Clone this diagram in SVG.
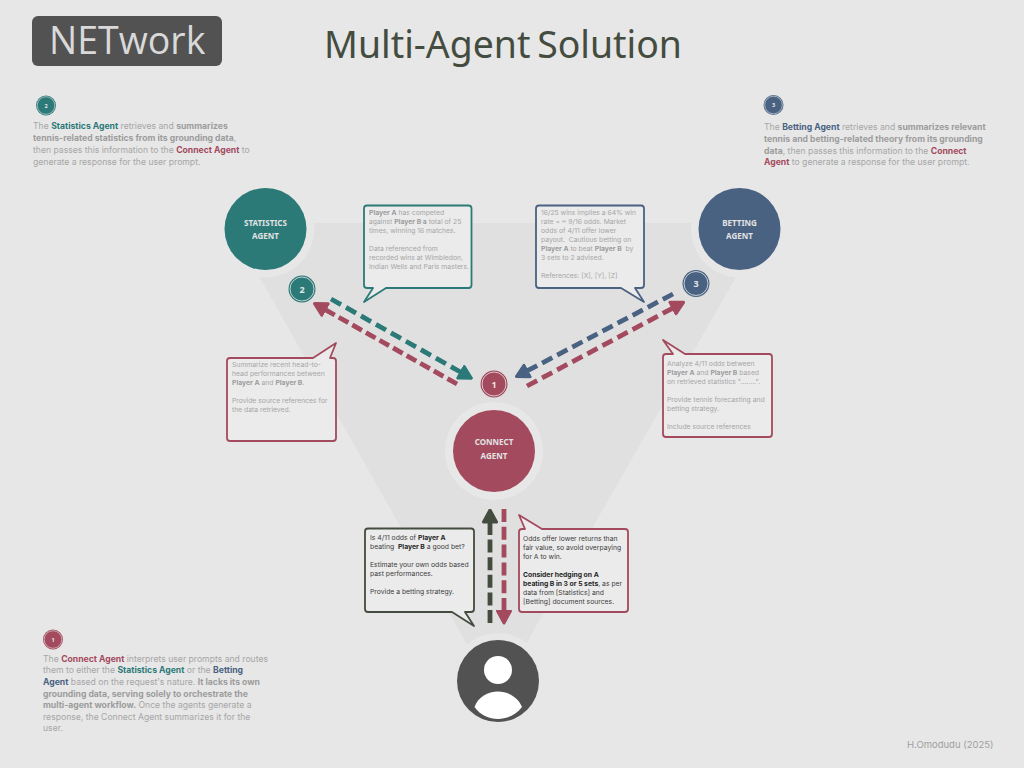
<svg xmlns="http://www.w3.org/2000/svg" width="1024" height="768" viewBox="0 0 1024 768">
<style>
text{font-family:"Inter","Liberation Sans",sans-serif;opacity:.999}
.t{font-size:6.8px;fill:#a6a6a6}
.td{font-size:6.8px;fill:#404040}
.l{font-size:8.65px;fill:#a6a6a6}
.b{font-weight:700}
.bd{font-weight:700;fill:#9c9c9c}
.bk{font-weight:700;fill:#1f1f1f}
.teal{font-weight:700;fill:#2b7a78}
.red{font-weight:700;fill:#a34a5e}
.blue{font-weight:700;fill:#4a6282}
.n{font-family:"Noto Sans","Open Sans",sans-serif;font-size:8px;font-weight:700;fill:#e2e2e2;text-anchor:middle}
.bn{font-family:"Noto Sans","Open Sans",sans-serif;font-weight:700;fill:#e7e7e7;text-anchor:middle}
.halo{fill:#e7e7e7}
.co{fill:#ebebeb;stroke-width:1.8;stroke-linejoin:round}
.cn{fill:none;stroke-width:4.8}
</style>
<defs>
<marker id="mTeal" viewBox="0 0 15 18" refX="1.5" refY="9" markerWidth="15" markerHeight="18" orient="auto" markerUnits="userSpaceOnUse"><path d="M1.5 2.5L13.5 9L1.5 15.5Z" fill="#2b7a78" stroke="#2b7a78" stroke-width="3" stroke-linejoin="round"/></marker>
<marker id="mRed" viewBox="0 0 15 18" refX="1.5" refY="9" markerWidth="15" markerHeight="18" orient="auto" markerUnits="userSpaceOnUse"><path d="M1.5 2.5L13.5 9L1.5 15.5Z" fill="#a34a5e" stroke="#a34a5e" stroke-width="3" stroke-linejoin="round"/></marker>
<marker id="mBlue" viewBox="0 0 15 18" refX="1.5" refY="9" markerWidth="15" markerHeight="18" orient="auto" markerUnits="userSpaceOnUse"><path d="M1.5 2.5L13.5 9L1.5 15.5Z" fill="#4a6282" stroke="#4a6282" stroke-width="3" stroke-linejoin="round"/></marker>
<marker id="mDark" viewBox="0 0 15 18" refX="1.5" refY="9" markerWidth="15" markerHeight="18" orient="auto" markerUnits="userSpaceOnUse"><path d="M1.5 2.5L13.5 9L1.5 15.5Z" fill="#434c3e" stroke="#434c3e" stroke-width="3" stroke-linejoin="round"/></marker>
</defs>
<rect width="1024" height="768" fill="#e7e7e7"/>
<path id="backdrop" d="M229 223H767L496 696Z" fill="#e0e0e0"/>
<circle class="halo" cx="265.5" cy="229" r="48.5"/>
<circle class="halo" cx="739.5" cy="229" r="48.5"/>
<circle class="halo" cx="494" cy="451" r="49"/>
<circle class="halo" cx="498" cy="681" r="48"/>

<g id="logo"><rect x="32" y="16" width="190" height="50" rx="6" fill="#525252"/><text x="49" y="54" font-size="37.5" fill="#d9d9d9" style="font-family:'Open Sans','Noto Sans',sans-serif">NETwork</text></g>
<text id="title" x="324" y="58" font-size="37.4" word-spacing="-3" fill="#434c3e" style="font-family:'Noto Sans','Open Sans',sans-serif">Multi-Agent Solution</text>

<g id="connectors">
<path class="cn" stroke="#2b7a78" stroke-dasharray="11.5 5.7" d="M331 299L461 372.3" marker-end="url(#mTeal)"/>
<path class="cn" stroke="#a34a5e" stroke-dasharray="11 4.6" d="M457 384L325 309.5" marker-end="url(#mRed)"/>
<path class="cn" stroke="#4a6282" stroke-dasharray="11.5 5.56" d="M673 294L527 371" marker-end="url(#mBlue)"/>
<path class="cn" stroke="#a34a5e" stroke-dasharray="11.5 5.6" d="M527 386L673 308" marker-end="url(#mRed)"/>
<path class="cn" stroke="#434c3e" stroke-dasharray="13 4.6" d="M490 623V522" marker-end="url(#mDark)"/>
<path class="cn" stroke="#a34a5e" stroke-dasharray="13 4.8" d="M504 509V611" marker-end="url(#mRed)"/>
</g>

<g id="node-statistics"><circle cx="265.5" cy="229" r="41" fill="#2b7a78"/><text class="n" x="265.5" y="226">STATISTICS</text><text class="n" x="265.5" y="239">AGENT</text></g>
<g id="node-betting"><circle cx="739.5" cy="229" r="41" fill="#4a6282"/><text class="n" x="739.5" y="226">BETTING</text><text class="n" x="739.5" y="239">AGENT</text></g>
<g id="node-connect"><circle cx="494" cy="451" r="41" fill="#a34a5e"/><text class="n" x="494" y="445">CONNECT</text><text class="n" x="494" y="459">AGENT</text></g>
<g id="node-user"><circle cx="498" cy="681" r="41" fill="#525252"/><circle cx="498" cy="670" r="14" fill="#fff"/><path d="M474.5 707C478 697 488 691.5 498 691.5S518 697 522 707C516 715 507 719 498 719S480 715 474.5 707Z" fill="#fff"/></g>

<g id="badge-2"><circle cx="302" cy="289" r="13.5" fill="#2b7a78"/><circle cx="302" cy="289" r="12" fill="none" stroke="#e7e7e7" stroke-width=".8"/><text class="bn" x="302" y="292.5" font-size="9">2</text></g>
<g id="badge-3"><circle cx="696" cy="283.5" r="13.5" fill="#4a6282"/><circle cx="696" cy="283.5" r="12" fill="none" stroke="#e7e7e7" stroke-width=".8"/><text class="bn" x="696" y="287" font-size="9">3</text></g>
<g id="badge-1"><circle cx="494" cy="384" r="13.5" fill="#a34a5e"/><circle cx="494" cy="384" r="12" fill="none" stroke="#e7e7e7" stroke-width=".8"/><text class="bn" x="494" y="387.5" font-size="9">1</text></g>

<g id="callout-stat-response"><path class="co" stroke="#2b7a78" d="M367 205.5H468.5Q471.5 205.5 471.5 208.5V285Q471.5 288 468.5 288H386L364 302L373 288H367Q364 288 364 285V208.5Q364 205.5 367 205.5Z"/>
<text class="t" x="369" y="215"><tspan class="bd">Player A</tspan> has competed</text><text class="t" x="369" y="224">against <tspan class="bd">Player B a</tspan> total of 25</text><text class="t" x="369" y="233">times, winning 16 matches.</text><text class="t" x="369" y="251">Data referenced from</text><text class="t" x="369" y="260">recorded wins at Wimbledon,</text><text class="t" x="369" y="269">Indian Wells and Paris masters.</text></g>

<g id="callout-stat-prompt"><path class="co" stroke="#a34a5e" d="M230 358H313L336 343L330 358H333Q336 358 336 361V438Q336 441 333 441H230Q227 441 227 438V361Q227 358 230 358Z"/>
<text class="t" x="232" y="367">Summarize recent head-to-</text><text class="t" x="232" y="376">head performances between</text><text class="t" x="232" y="385"><tspan class="bd">Player A</tspan> and <tspan class="bd">Player B</tspan>.</text><text class="t" x="232" y="403">Provide source references for</text><text class="t" x="232" y="412">the data retrieved.</text></g>

<g id="callout-bet-response"><path class="co" stroke="#4a6282" d="M539 205.5H641Q644 205.5 644 208.5V285Q644 288 641 288H635L644 302L621 288H539Q536 288 536 285V208.5Q536 205.5 539 205.5Z"/>
<text class="t" x="541" y="215">16/25 wins implies a 64% win</text><text class="t" x="541" y="224">rate = ~ 9/16 odds. Market</text><text class="t" x="541" y="233">odds of 4/11 offer lower</text><text class="t" x="541" y="242" xml:space="preserve">payout.  Cautious betting on</text><text class="t" x="541" y="251" xml:space="preserve"><tspan class="bd">Player A</tspan> to beat <tspan class="bd">Player B</tspan>  by</text><text class="t" x="541" y="260">3 sets to 2 advised.</text><text class="t" x="541" y="278">References: [X], [Y], [Z]</text></g>

<g id="callout-bet-prompt"><path class="co" stroke="#a34a5e" d="M666 354H673L663 340L685 354H769Q772 354 772 357V434Q772 437 769 437H666Q663 437 663 434V357Q663 354 666 354Z"/>
<text class="t" x="667" y="366">Analyze 4/11 odds between</text><text class="t" x="667" y="375"><tspan class="bd">Player A</tspan> and <tspan class="bd">Player B</tspan> based</text><text class="t" x="667" y="384">on retrieved statistics "........".</text><text class="t" x="667" y="402">Provide tennis forecasting and</text><text class="t" x="667" y="411">betting strategy.</text><text class="t" x="667" y="429">Include source references</text></g>

<g id="callout-user-prompt"><path class="co" stroke="#434c3e" d="M368 528.5H471Q474 528.5 474 531.5V609Q474 612 471 612H465L474 626L452 612H368Q365 612 365 609V531.5Q365 528.5 368 528.5Z"/>
<text class="td" x="370" y="539.5">Is 4/11 odds of <tspan class="bk">Player A</tspan></text><text class="td" x="370" y="548.5" xml:space="preserve">beating  <tspan class="bk">Player B</tspan> a good bet?</text><text class="td" x="370" y="566.5">Estimate your own odds based</text><text class="td" x="370" y="575.5">past performances.</text><text class="td" x="370" y="593.5">Provide a betting strategy.</text></g>

<g id="callout-user-response"><path class="co" stroke="#a34a5e" d="M522 529H525L519 515L542 529H625Q628 529 628 532V609Q628 612 625 612H522Q519 612 519 609V532Q519 529 522 529Z"/>
<text class="td" x="523" y="541">Odds offer lower returns than</text><text class="td" x="523" y="550">fair value, so avoid overpaying</text><text class="td" x="523" y="559">for A to win.</text><text class="td" x="523" y="577"><tspan class="bk">Consider hedging on A</tspan></text><text class="td" x="523" y="586"><tspan class="bk">beating B in 3 or 5 sets</tspan>, as per</text><text class="td" x="523" y="595">data from [Statistics] and</text><text class="td" x="523" y="604">[Betting] document sources.</text></g>

<g id="legend-2"><circle cx="46" cy="105.5" r="10" fill="#2b7a78"/><circle cx="46" cy="105.5" r="8.8" fill="none" stroke="#e7e7e7" stroke-width=".6"/><text class="bn" x="46" y="107.5" font-size="5.5">2</text>
<text class="l" x="33" y="129">The <tspan class="teal">Statistics Agent</tspan> retrieves and <tspan class="bd">summarizes</tspan></text><text class="l" x="33" y="141"><tspan class="bd">tennis-related statistics from its grounding data</tspan>,</text><text class="l" x="33" y="153">then passes this information to the <tspan class="red">Connect Agent</tspan> to</text><text class="l" x="33" y="165">generate a response for the user prompt.</text></g>

<g id="legend-3"><circle cx="773.5" cy="105" r="10" fill="#4a6282"/><circle cx="773.5" cy="105" r="8.8" fill="none" stroke="#e7e7e7" stroke-width=".6"/><text class="bn" x="773.5" y="107" font-size="5.5">3</text>
<text class="l" x="764" y="130">The <tspan class="blue">Betting Agent</tspan> retrieves and <tspan class="bd">summarizes relevant</tspan></text><text class="l" x="764" y="142"><tspan class="bd">tennis and betting-related theory from its grounding</tspan></text><text class="l" x="764" y="154"><tspan class="bd">data</tspan>, then passes this information to the <tspan class="red">Connect</tspan></text><text class="l" x="764" y="165"><tspan class="red">Agent</tspan> to generate a response for the user prompt.</text></g>

<g id="legend-1"><circle cx="53" cy="639.5" r="10" fill="#a34a5e"/><circle cx="53" cy="639.5" r="8.8" fill="none" stroke="#e7e7e7" stroke-width=".6"/><text class="bn" x="53" y="641.5" font-size="5.5">1</text>
<text class="l" x="43" y="662">The <tspan class="red">Connect Agent</tspan> interprets user prompts and routes</text><text class="l" x="43" y="673">them to either the <tspan class="teal">Statistics Agent</tspan> or the <tspan class="blue">Betting</tspan></text><text class="l" x="43" y="685"><tspan class="blue">Agent</tspan> based on the request's nature. <tspan class="bd">It lacks its own</tspan></text><text class="l" x="43" y="697"><tspan class="bd">grounding data, serving solely to orchestrate the</tspan></text><text class="l" x="43" y="708"><tspan class="bd">multi-agent workflow.</tspan> Once the agents generate a</text><text class="l" x="43" y="720">response, the Connect Agent summarizes it for the</text><text class="l" x="43" y="731">user.</text></g>

<text id="credit" x="907" y="748" font-size="9.5" fill="#a0a0a0">H.Omodudu (2025)</text>
</svg>
